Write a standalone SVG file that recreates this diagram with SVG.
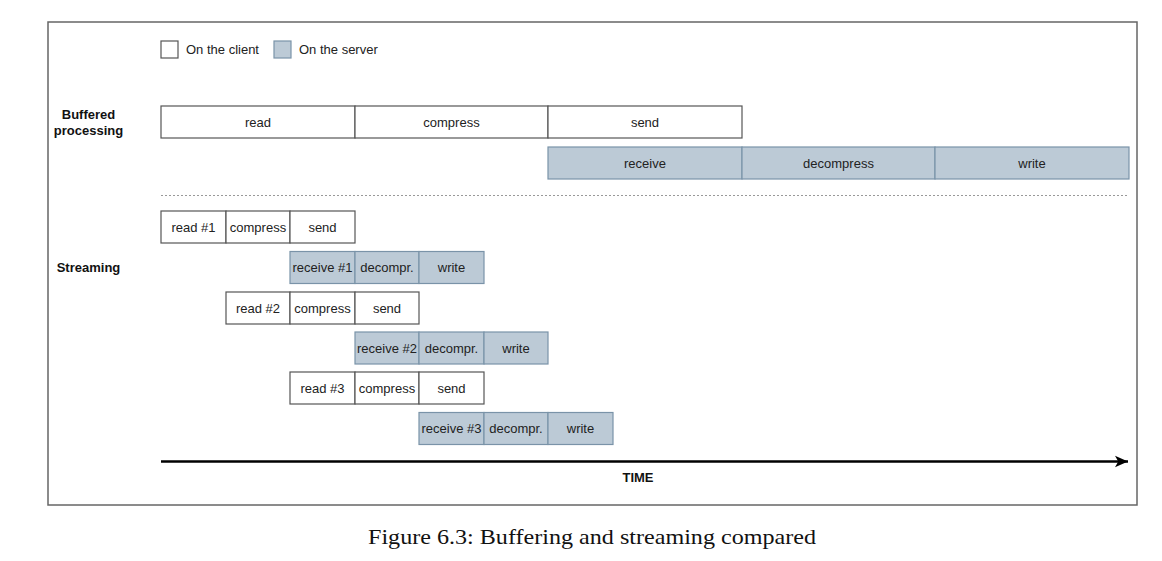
<svg xmlns="http://www.w3.org/2000/svg" width="1162" height="561" viewBox="0 0 1162 561">
<style>
.c{fill:#ffffff;stroke:#555555;stroke-width:1.2}
.s{fill:#bccad6;stroke:#7a93a8;stroke-width:1.2}
.t{font-family:"Liberation Sans",Arial,sans-serif;font-size:13px;fill:#222222;text-anchor:middle}
.b{font-family:"Liberation Sans",Arial,sans-serif;font-size:13px;font-weight:bold;fill:#111111;text-anchor:middle}
.l{font-family:"Liberation Sans",Arial,sans-serif;font-size:13px;fill:#222222}
</style>
<defs>
<marker id="ah" viewBox="0 0 10 10" refX="10" refY="5" markerWidth="5.2" markerHeight="5.2" orient="auto" markerUnits="strokeWidth">
<path d="M0,0.5 L10,5 L0,9.5 L2.5,5 Z" fill="#000000"/>
</marker>
</defs>
<rect width="1162" height="561" fill="#ffffff"/>
<rect x="48" y="22" width="1089" height="483" fill="none" stroke="#666666" stroke-width="1.5"/>

<g id="legend">
<rect class="c" x="161" y="41" width="17" height="17"/>
<text class="l" x="186" y="54">On the client</text>
<rect class="s" x="274" y="41" width="17" height="17"/>
<text class="l" x="299" y="54">On the server</text>
</g>

<g id="labels">
<text class="b" x="88.5" y="119">Buffered</text>
<text class="b" x="88.5" y="135">processing</text>
<text class="b" x="88.5" y="272">Streaming</text>
<text class="b" x="638" y="482" font-size="12">TIME</text>
</g>

<g id="buffered">
<g id="b-read"><rect class="c" x="161" y="106" width="194" height="32"/><text class="t" x="258" y="126.5">read</text></g>
<g id="b-compress"><rect class="c" x="355" y="106" width="193" height="32"/><text class="t" x="451.5" y="126.5">compress</text></g>
<g id="b-send"><rect class="c" x="548" y="106" width="194" height="32"/><text class="t" x="645" y="126.5">send</text></g>
<g id="b-receive"><rect class="s" x="548" y="147" width="194" height="32"/><text class="t" x="645" y="167.5">receive</text></g>
<g id="b-decompress"><rect class="s" x="742" y="147" width="193" height="32"/><text class="t" x="838.5" y="167.5">decompress</text></g>
<g id="b-write"><rect class="s" x="935" y="147" width="194" height="32"/><text class="t" x="1032" y="167.5">write</text></g>
</g>

<line x1="161" y1="195.5" x2="1129" y2="195.5" stroke="#999999" stroke-width="1" stroke-dasharray="2 2"/>

<g id="streaming">
<g id="s-read1"><rect class="c" x="161" y="211" width="65" height="32"/><text class="t" x="193.5" y="231.5">read #1</text></g>
<g id="s-compress1"><rect class="c" x="226" y="211" width="64" height="32"/><text class="t" x="258" y="231.5">compress</text></g>
<g id="s-send1"><rect class="c" x="290" y="211" width="65" height="32"/><text class="t" x="322.5" y="231.5">send</text></g>

<g id="s-receive1"><rect class="s" x="290" y="251.5" width="65" height="32"/><text class="t" x="322.5" y="272">receive #1</text></g>
<g id="s-decompr1"><rect class="s" x="355" y="251.5" width="64" height="32"/><text class="t" x="387" y="272">decompr.</text></g>
<g id="s-write1"><rect class="s" x="419" y="251.5" width="65" height="32"/><text class="t" x="451.5" y="272">write</text></g>

<g id="s-read2"><rect class="c" x="226" y="292" width="64" height="32"/><text class="t" x="258" y="312.5">read #2</text></g>
<g id="s-compress2"><rect class="c" x="290" y="292" width="65" height="32"/><text class="t" x="322.5" y="312.5">compress</text></g>
<g id="s-send2"><rect class="c" x="355" y="292" width="64" height="32"/><text class="t" x="387" y="312.5">send</text></g>

<g id="s-receive2"><rect class="s" x="355" y="332" width="64" height="32"/><text class="t" x="387" y="352.5">receive #2</text></g>
<g id="s-decompr2"><rect class="s" x="419" y="332" width="65" height="32"/><text class="t" x="451.5" y="352.5">decompr.</text></g>
<g id="s-write2"><rect class="s" x="484" y="332" width="64" height="32"/><text class="t" x="516" y="352.5">write</text></g>

<g id="s-read3"><rect class="c" x="290" y="372" width="65" height="32"/><text class="t" x="322.5" y="392.5">read #3</text></g>
<g id="s-compress3"><rect class="c" x="355" y="372" width="64" height="32"/><text class="t" x="387" y="392.5">compress</text></g>
<g id="s-send3"><rect class="c" x="419" y="372" width="65" height="32"/><text class="t" x="451.5" y="392.5">send</text></g>

<g id="s-receive3"><rect class="s" x="419" y="412.5" width="65" height="32"/><text class="t" x="451.5" y="433">receive #3</text></g>
<g id="s-decompr3"><rect class="s" x="484" y="412.5" width="64" height="32"/><text class="t" x="516" y="433">decompr.</text></g>
<g id="s-write3"><rect class="s" x="548" y="412.5" width="65" height="32"/><text class="t" x="580.5" y="433">write</text></g>
</g>

<g id="connectors">
<line x1="161" y1="461.5" x2="1128" y2="461.5" stroke="#000000" stroke-width="2.5" marker-end="url(#ah)"/>
</g>

<text x="592" y="544" font-family="'Liberation Serif','Times New Roman',serif" font-size="22" fill="#111111" text-anchor="middle" textLength="448" lengthAdjust="spacingAndGlyphs">Figure 6.3: Buffering and streaming compared</text>
</svg>
